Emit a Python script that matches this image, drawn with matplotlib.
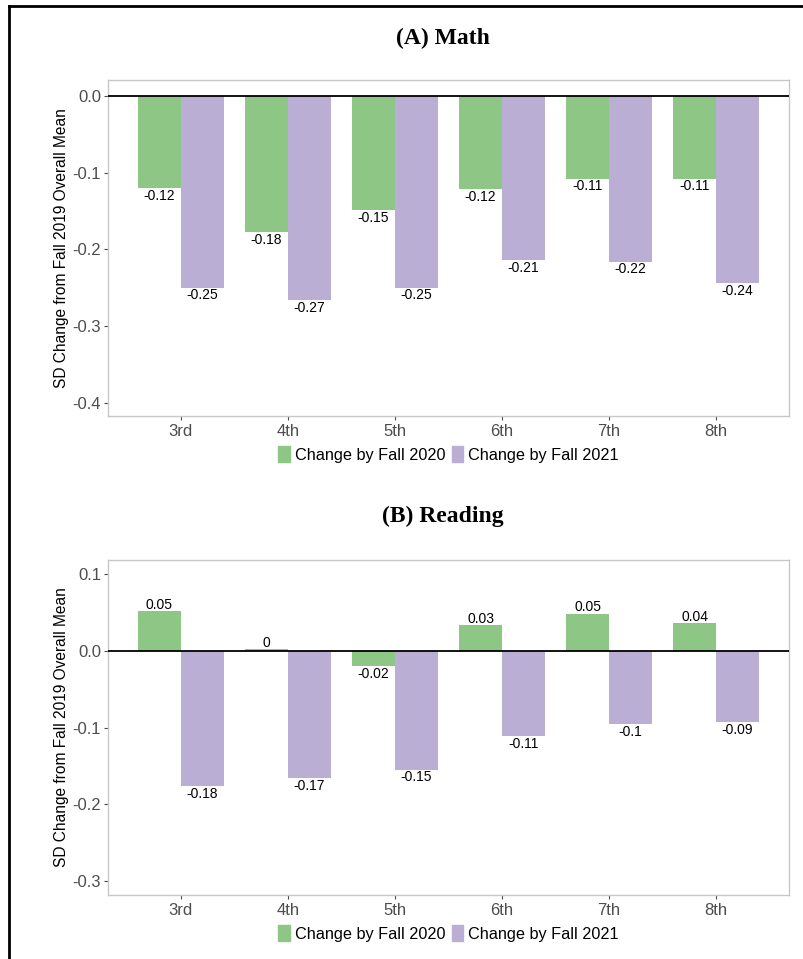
"""Learning loss by grade: SD change from Fall 2019 overall mean, math and reading."""
import matplotlib

matplotlib.use("Agg")
import matplotlib.pyplot as plt
import numpy as np
from matplotlib.lines import Line2D
from matplotlib.patches import Patch

grades = ["3rd", "4th", "5th", "6th", "7th", "8th"]
series = ["Change by Fall 2020", "Change by Fall 2021"]

math_2020 = [-0.12, -0.178, -0.149, -0.122, -0.108, -0.108]
math_2021 = [-0.25, -0.266, -0.25, -0.214, -0.216, -0.244]
read_2020 = [0.051, 0.002, -0.02, 0.033, 0.048, 0.036]
read_2021 = [-0.176, -0.166, -0.155, -0.111, -0.096, -0.093]

GREEN = "#8DC685"
PURPLE = "#BAAED4"
SANS = ["Liberation Sans", "DejaVu Sans"]
SERIF = ["Liberation Serif", "DejaVu Serif"]

plt.rcParams["font.family"] = SANS

W, H = 804, 959
fig = plt.figure(figsize=(W / 100, H / 100), dpi=100)


def fmt(v):
    r = round(v, 2)
    if r == 0:
        r = 0.0
    return f"{r:g}"


def panel(rect, title, title_y, v20, v21, ylim, yticks):
    ax = fig.add_axes(rect)
    x = np.arange(1, len(grades) + 1)
    w = 0.4
    for vals, off, col in ((v20, -w / 2, GREEN), (v21, w / 2, PURPLE)):
        ax.bar(x + off, vals, width=w, color=col, zorder=2)
        for xi, v in zip(x + off, vals):
            ax.annotate(fmt(v), (xi, v), textcoords="offset points",
                        xytext=(0, -0.5 if v < 0 else -0.5),
                        ha="center", va="top" if v < 0 else "bottom",
                        fontsize=10, color="black")
    ax.axhline(0, color="black", lw=1.3, zorder=3)
    ax.set_xlim(0.32, 6.68)
    ax.set_ylim(*ylim)
    ax.set_xticks(x)
    ax.set_xticklabels(grades)
    ax.set_yticks(yticks)
    ax.set_yticklabels([f"{t:.1f}" for t in yticks])
    ax.tick_params(axis="x", labelsize=12, colors="#4D4D4D", length=3, pad=3)
    ax.tick_params(axis="y", labelsize=12, colors="#4D4D4D", length=3, pad=2)
    for s in ax.spines.values():
        s.set_color("#C8C8C8")
        s.set_linewidth(1.0)
    ax.set_ylabel("SD Change from Fall 2019 Overall Mean", fontsize=11.2)
    ax.yaxis.set_label_coords(-0.057, 0.5)
    fig.text(rect[0] + rect[2] / 2 - 6 / W, title_y, title, ha="center", va="center",
             fontsize=17, fontweight="bold", family=SERIF)
    handles = [Patch(color=GREEN), Patch(color=PURPLE)]
    ax.legend(handles, series, loc="center", bbox_to_anchor=(0.5, -0.115), ncol=2,
              frameon=False, fontsize=11.7, handlelength=0.7, handleheight=1.1,
              handletextpad=0.3, columnspacing=0.4)
    return ax


panel([108 / W, 1 - 416 / H, 681 / W, 336 / H], "(A) Math", 1 - 38 / H,
      math_2020, math_2021, (-0.417, 0.0205), [-0.4, -0.3, -0.2, -0.1, 0.0])
panel([108 / W, 1 - 895 / H, 681 / W, 335 / H], "(B) Reading", 1 - 516 / H,
      read_2020, read_2021, (-0.318, 0.118), [-0.3, -0.2, -0.1, 0.0, 0.1])

# page border (top and left edges)
fig.add_artist(Line2D([9.5 / W, 1.0], [1 - 5.5 / H, 1 - 5.5 / H], color="black", lw=2,
                      transform=fig.transFigure))
fig.add_artist(Line2D([9.5 / W, 9.5 / W], [0, 1 - 5.5 / H], color="black", lw=2,
                      transform=fig.transFigure))

fig.savefig("out.png", dpi=100)
